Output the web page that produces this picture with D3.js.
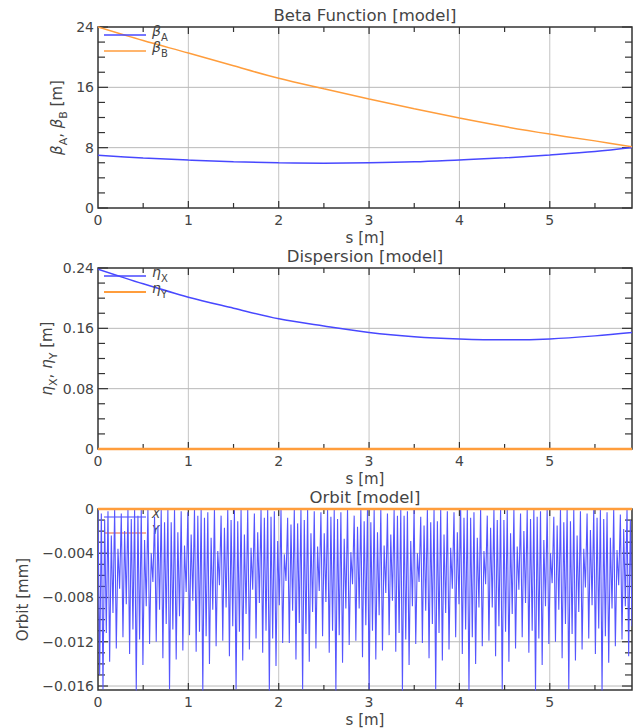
<!DOCTYPE html>
<html>
<head>
<meta charset="utf-8">
<script src="https://cdn.jsdelivr.net/npm/d3@7"></script>
<style>
  html, body { margin: 0; padding: 0; background: #fff; }
  svg { display: block; font-family: "DejaVu Sans", sans-serif; }
</style>
</head>
<body>
<svg id="chart" width="633" height="728"></svg>
<script>
// ---- data ----
const sMax = 5.91;
const sTicks = [0, 1, 2, 3, 4, 5];

const betaS = [0, 0.5, 1, 1.5, 2, 2.5, 3, 3.5, 4, 4.5, 5, 5.5, 5.91];
const betaA = [7.0, 6.62, 6.35, 6.12, 6.0, 5.95, 6.0, 6.13, 6.38, 6.65, 7.03, 7.48, 8.02];
const betaB = [24.0, 22.2, 20.55, 18.85, 17.2, 15.8, 14.45, 13.15, 11.93, 10.8, 9.8, 8.9, 8.12];
const betaTicks = [0, 8, 16, 24];

const etaS = [0, 0.5, 1, 1.5, 2, 2.5, 3, 3.5, 4, 4.5, 5, 5.5, 5.91];
const etaX = [0.2384, 0.219, 0.2013, 0.1867, 0.1726, 0.163, 0.1545, 0.149, 0.146, 0.1448, 0.146, 0.150, 0.1545];
const etaY = [0, 0, 0, 0, 0, 0, 0, 0, 0, 0, 0, 0, 0];
const etaTicks = [0, 0.08, 0.16, 0.24];

const orbitTicks = [0, -0.004, -0.008, -0.012, -0.016];
const orbitTickLabels = ["0", "\u22120.004", "\u22120.008", "\u22120.012", "\u22120.016"];
// x orbit, sampled evenly along s (alternating crest / trough of the fast oscillation)
const orbitX = [
  0, -0.0150, -0.0004,
  -0.0163, -0.0010, -0.0112, -0.0002, -0.0138, -0.0024, -0.0094, 0, -0.0126, -0.0036, -0.0072, -0.0004, -0.0116, -0.0020, -0.0086, 0, -0.0131, -0.0009, -0.0109, 0,
  -0.0164, -0.0006, -0.0118, -0.0001, -0.0141, -0.0028, -0.0088, 0, -0.0122, -0.0040, -0.0066, -0.0007, -0.0120, -0.0015, -0.0091, -0.0001, -0.0135, -0.0012, -0.0104, 0,
  -0.0163, -0.0012, -0.0109, 0, -0.0136, -0.0021, -0.0097, -0.0002, -0.0128, -0.0033, -0.0075, -0.0003, -0.0114, -0.0023, -0.0083, 0, -0.0129, -0.0006, -0.0111, -0.0001,
  -0.0164, -0.0008, -0.0115, -0.0003, -0.0140, -0.0026, -0.0091, 0, -0.0124, -0.0038, -0.0069, -0.0006, -0.0119, -0.0017, -0.0089, 0, -0.0133, -0.0010, -0.0106, 0,
  -0.0163, -0.0011, -0.0111, -0.0001, -0.0137, -0.0023, -0.0095, 0, -0.0127, -0.0035, -0.0073, -0.0004, -0.0117, -0.0021, -0.0085, -0.0001, -0.0130, -0.0008, -0.0110, 0,
  -0.0164, -0.0007, -0.0117, -0.0002, -0.0142, -0.0029, -0.0087, 0, -0.0121, -0.0041, -0.0065, -0.0008, -0.0121, -0.0014, -0.0092, 0, -0.0136, -0.0013, -0.0103, 0,
  -0.0163, -0.0010, -0.0113, 0, -0.0138, -0.0022, -0.0093, -0.0002, -0.0126, -0.0034, -0.0074, -0.0003, -0.0115, -0.0022, -0.0084, 0, -0.0130, -0.0007, -0.0110, -0.0001,
  -0.0164, -0.0009, -0.0114, -0.0003, -0.0139, -0.0027, -0.0090, 0, -0.0123, -0.0039, -0.0068, -0.0006, -0.0119, -0.0016, -0.0090, 0, -0.0134, -0.0011, -0.0105, 0,
  -0.0163, -0.0012, -0.0110, -0.0001, -0.0136, -0.0021, -0.0096, 0, -0.0128, -0.0033, -0.0076, -0.0004, -0.0114, -0.0023, -0.0083, -0.0001, -0.0129, -0.0006, -0.0112, 0,
  -0.0164, -0.0006, -0.0118, -0.0002, -0.0141, -0.0029, -0.0088, 0, -0.0122, -0.0040, -0.0066, -0.0007, -0.0121, -0.0015, -0.0092, 0, -0.0135, -0.0012, -0.0104, 0,
  -0.0163, -0.0011, -0.0112, 0, -0.0137, -0.0023, -0.0094, -0.0002, -0.0127, -0.0035, -0.0072, -0.0003, -0.0116, -0.0021, -0.0086, 0, -0.0131, -0.0008, -0.0109, -0.0001,
  -0.0164, -0.0008, -0.0116, -0.0003, -0.0140, -0.0026, -0.0089, 0, -0.0124, -0.0038, -0.0068, -0.0006, -0.0119, -0.0017, -0.0089, 0, -0.0133, -0.0010, -0.0106, 0,
  -0.0163, -0.0010, -0.0111, -0.0001, -0.0138, -0.0022, -0.0095, 0, -0.0126, -0.0034, -0.0073, -0.0004, -0.0116, -0.0020, -0.0085, -0.0001, -0.0130, -0.0009, -0.0110, 0,
  -0.0164, -0.0007, -0.0117, -0.0002, -0.0141, -0.0028, -0.0088, 0, -0.0122, -0.0040, -0.0067, -0.0007, -0.0120, -0.0015, -0.0091, 0, -0.0135, -0.0012, -0.0104, 0,
  -0.0163, -0.0011, -0.0113, 0, -0.0137, -0.0024, -0.0093, -0.0002, -0.0127, -0.0036, -0.0071, -0.0004, -0.0117, -0.0019, -0.0087, 0, -0.0131, -0.0008, -0.0108, -0.0001,
  -0.0164, -0.0009, -0.0115, -0.0003, -0.0139, -0.0026, -0.0090, 0, -0.0124, -0.0037, -0.0069, -0.0005, -0.0118, -0.0018, -0.0088, 0, -0.0133, -0.0010, -0.0106, 0
];
const orbitYS = [0, sMax];
const orbitY = [0, 0];

const blue = "#4848ff";
const orange = "#ff9d3c";

// ---- layout ----
const left = 98, right = 632, plotH = 181;
const svg = d3.select("#chart");
const x = d3.scaleLinear().domain([0, sMax]).range([left, right]);

function drawPanel({ top, yDomain, yTicks, yLabels, yMinor, title, yLabelX, yLabel, legend, series, legendFirst }) {
  const bottom = top + plotH;
  const y = d3.scaleLinear().domain(yDomain).range([bottom, top]);
  const g = svg.append("g");
  const clipId = "clip" + top;
  svg.append("clipPath").attr("id", clipId)
    .append("rect").attr("x", left).attr("y", top - 2).attr("width", right - left).attr("height", plotH + 4);

  // grid
  g.selectAll("line.gx").data(sTicks.filter((d) => d > 0)).join("line")
    .attr("x1", (d) => x(d)).attr("x2", (d) => x(d)).attr("y1", top).attr("y2", bottom)
    .attr("stroke", "#c4c4c4").attr("stroke-width", 1);
  g.selectAll("line.gy").data(yTicks.filter((d) => y(d) > top + 1 && y(d) < bottom - 1)).join("line")
    .attr("class", "gy")
    .attr("x1", left).attr("x2", right).attr("y1", (d) => y(d)).attr("y2", (d) => y(d))
    .attr("stroke", "#b8b8b8").attr("stroke-width", 1);

  // ticks (inward on all four sides)
  const ticks = g.append("g").attr("stroke", "#333").attr("stroke-width", 1.2);
  const xMinor = d3.range(0.5, sMax, 0.5);
  xMinor.forEach((d) => {
    const len = Number.isInteger(d) ? 7 : 5;
    ticks.append("line").attr("x1", x(d)).attr("x2", x(d)).attr("y1", bottom).attr("y2", bottom - len);
    ticks.append("line").attr("x1", x(d)).attr("x2", x(d)).attr("y1", top).attr("y2", top + len);
  });
  const yMin = Math.min(...yDomain), yMax = Math.max(...yDomain);
  d3.range(Math.ceil(yMin / yMinor - 1e-6) * yMinor, yMax + yMinor / 2, yMinor).forEach((d) => {
    const major = yTicks.some((t) => Math.abs(t - d) < yMinor / 10);
    const len = major ? 10 : 7;
    ticks.append("line").attr("x1", left).attr("x2", left + len).attr("y1", y(d)).attr("y2", y(d));
    ticks.append("line").attr("x1", right).attr("x2", right - len).attr("y1", y(d)).attr("y2", y(d));
  });

  // frame
  g.append("rect").attr("x", left).attr("y", top).attr("width", right - left).attr("height", plotH)
    .attr("fill", "none").attr("stroke", "#333").attr("stroke-width", 1.5);

  // legend + series
  const drawLegend = () => {
    legend.forEach((item, i) => {
      const ly = top + 8 + i * 16;
      g.append("line").attr("x1", 104).attr("x2", 146).attr("y1", ly).attr("y2", ly)
        .attr("stroke", item.color).attr("stroke-width", item.width || 1.6);
      const t = g.append("text").attr("x", 152).attr("y", ly + 1).attr("font-size", item.size || 14)
        .attr("fill", "#444");
      t.append("tspan").attr("font-style", "italic").text(item.main);
      if (item.sub) t.append("tspan").attr("font-size", 10).attr("dy", 5).text(item.sub);
    });
  };
  if (legendFirst) drawLegend();
  const lines = g.append("g").attr("clip-path", `url(#${clipId})`);
  series.forEach((sr) => {
    const line = d3.line().x((d) => x(d[0])).y((d) => y(d[1]));
    if (sr.smooth) line.curve(d3.curveCatmullRom);
    lines.append("path").datum(sr.s.map((s, i) => [s, sr.v[i]]))
      .attr("fill", "none").attr("stroke", sr.color).attr("stroke-width", sr.width)
      .attr("stroke-linejoin", "bevel").attr("d", line);
  });
  if (!legendFirst) drawLegend();

  // tick labels
  g.selectAll("text.xt").data(sTicks).join("text").attr("class", "xt")
    .attr("x", (d) => x(d)).attr("y", bottom + 12).attr("dy", "0.35em")
    .attr("text-anchor", "middle").attr("font-size", 14).attr("fill", "#444").text((d) => d);
  g.selectAll("text.yt").data(yTicks).join("text").attr("class", "yt")
    .attr("x", 94).attr("y", (d) => y(d)).attr("dy", "0.35em")
    .attr("text-anchor", "end").attr("font-size", 14).attr("fill", "#444")
    .text((d, i) => yLabels[i]);

  // axis titles
  g.append("text").attr("x", (left + right) / 2).attr("y", bottom + 30).attr("dy", "0.35em")
    .attr("text-anchor", "middle").attr("font-size", 15).attr("fill", "#444").text("s [m]");
  g.append("text").attr("x", (left + right) / 2).attr("y", top - 12).attr("dy", "0.35em")
    .attr("text-anchor", "middle").attr("font-size", 16.5).attr("fill", "#444").text(title);
  const yl = g.append("text")
    .attr("transform", `translate(${yLabelX},${(top + bottom) / 2}) rotate(-90)`)
    .attr("text-anchor", "middle").attr("dy", "0.35em").attr("font-size", 15).attr("fill", "#444");
  yLabel(yl);
}

function greekLabel(sym, a, b) {
  return (t) => {
    t.append("tspan").attr("font-style", "italic").text(sym);
    t.append("tspan").attr("font-size", 11).attr("dy", 5).text(a);
    t.append("tspan").attr("dy", -5).text(", ");
    t.append("tspan").attr("font-style", "italic").text(sym);
    t.append("tspan").attr("font-size", 11).attr("dy", 5).text(b);
    t.append("tspan").attr("dy", -5).text(" [m]");
  };
}

drawPanel({
  top: 27, yDomain: [0, 24], yTicks: betaTicks, yLabels: betaTicks.map(String), yMinor: 2,
  title: "Beta Function [model]", yLabelX: 57, yLabel: greekLabel("\u03b2", "A", "B"),
  legend: [{ color: blue, main: "\u03b2", sub: "A" }, { color: orange, main: "\u03b2", sub: "B" }],
  series: [
    { s: betaS, v: betaA, color: blue, width: 1.5, smooth: true },
    { s: betaS, v: betaB, color: orange, width: 1.5, smooth: true },
  ],
});

drawPanel({
  top: 268, yDomain: [0, 0.24], yTicks: etaTicks, yLabels: ["0", "0.08", "0.16", "0.24"], yMinor: 0.02,
  title: "Dispersion [model]", yLabelX: 47, yLabel: greekLabel("\u03b7", "X", "Y"),
  legend: [{ color: blue, main: "\u03b7", sub: "X" }, { color: orange, main: "\u03b7", sub: "Y", width: 2.2 }],
  series: [
    { s: etaS, v: etaY, color: orange, width: 2.5 },
    { s: etaS, v: etaX, color: blue, width: 1.5, smooth: true },
  ],
});

const orbitS = orbitX.map((v, i) => (i * sMax) / 321);
drawPanel({
  top: 509, yDomain: [-0.01636, 0], yTicks: orbitTicks, yLabels: orbitTickLabels, yMinor: 0.001,
  title: "Orbit [model]", yLabelX: 23, yLabel: (t) => t.text("Orbit [mm]"),
  legendFirst: true,
  legend: [{ color: blue, main: "X", size: 12, width: 1.2 }, { color: "#e8603c", main: "Y", size: 12, width: 1 }],
  series: [
    { s: orbitS, v: orbitX, color: "#5555ff", width: 1.1 },
    { s: orbitYS, v: orbitY, color: orange, width: 2.5 },
  ],
});
</script>
</body>
</html>
